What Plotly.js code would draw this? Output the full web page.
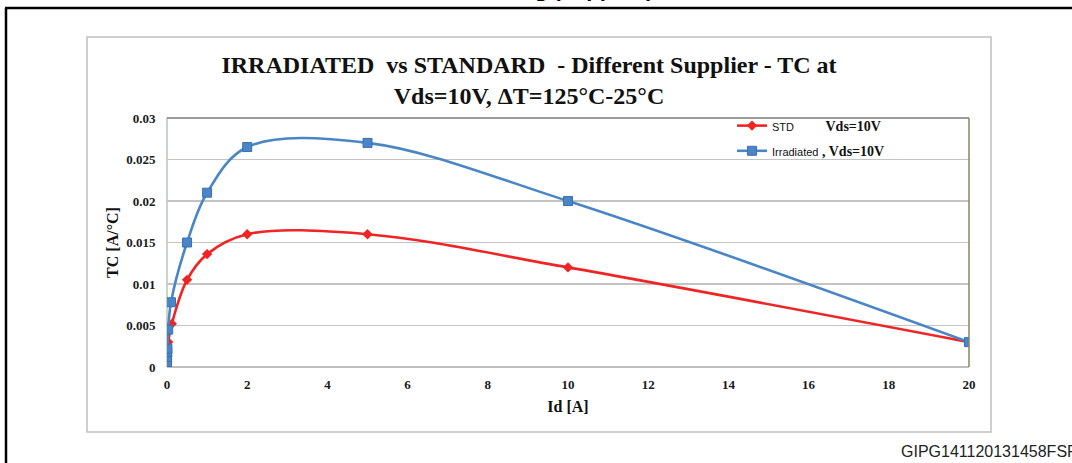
<!DOCTYPE html>
<html>
<head>
<meta charset="utf-8">
<script src="https://cdn.plot.ly/plotly-3.0.1.min.js"></script>
<style>
  html, body { margin: 0; padding: 0; background: #ffffff; overflow: hidden; }
  #chart { width: 1072px; height: 463px; }
</style>
</head>
<body>
<div id="chart"></div>
<script>
// ---- data ----
const stdId   = [0.001, 0.002, 0.005, 0.01, 0.03, 0.12, 0.5, 1, 2, 5, 10, 20];
const stdTC   = [0.0004, 0.0008, 0.0013, 0.0018, 0.003, 0.0052, 0.0105, 0.0136, 0.016, 0.016, 0.012, 0.003];
const irrId   = [0.001, 0.002, 0.005, 0.01, 0.03, 0.1, 0.5, 1, 2, 5, 10, 20];
const irrTC   = [0.0006, 0.0012, 0.0018, 0.0022, 0.0045, 0.0078, 0.015, 0.021, 0.0265, 0.027, 0.020, 0.003];
const xTicks  = [0, 2, 4, 6, 8, 10, 12, 14, 16, 18, 20];
const yTicks  = [0, 0.005, 0.01, 0.015, 0.02, 0.025, 0.03];
const yTickText = ['0', '0.005', '0.01', '0.015', '0.02', '0.025', '0.03'];
const stdName = '<span style="font-family:\'Liberation Sans\';font-size:11px;font-weight:normal">STD</span>' + '\u00a0'.repeat(9) + '<b>Vds=10V</b>';
const irrName = '<span style="font-family:\'Liberation Sans\';font-size:11px;font-weight:normal">Irradiated</span> <b>, Vds=10V</b>';
const chartTitle = '<b>IRRADIATED  vs STANDARD  - Different Supplier - TC at</b><br><b>Vds=10V, \u0394T=125\u00b0C-25\u00b0C</b>';
const xTitle = 'Id [A]';
const yTitle = 'TC [A/\u00b0C]';
const footCode = 'GIPG141120131458FSR';
const topCaption = '<b>I<sub>D</sub> (supplier)</b>';

// ---- geometry helpers (pixel -> paper) ----
const L = 167, R = 969, T = 118, B = 367, W = 1072, H = 463;
const px = p => (p - L) / (R - L);
const py = p => (B - p) / (B - T);

const serif = 'Liberation Serif, Times New Roman, serif';

const traces = [
  {
    x: stdId, y: stdTC, name: stdName, type: 'scatter', mode: 'lines+markers',
    line: {color: '#f02424', width: 2.6, shape: 'spline', smoothing: 1},
    marker: {symbol: 'diamond', size: 8, color: '#f02424'},
    legendgroup: 'a'
  },
  {
    x: irrId, y: irrTC, name: irrName, type: 'scatter', mode: 'lines+markers',
    line: {color: '#4a86c6', width: 2.6, shape: 'spline', smoothing: 1},
    marker: {symbol: 'square', size: 9, color: '#4a86c6', line: {color: '#3a70b0', width: 1}},
    legendgroup: 'b'
  }
];

const shapes = [
  // outer black frame (left and top)
  {type: 'line', xref: 'paper', yref: 'paper', x0: px(6), x1: px(6), y0: py(8), y1: py(470), line: {color: '#000', width: 2.5}},
  {type: 'line', xref: 'paper', yref: 'paper', x0: px(5), x1: px(1075), y0: py(8), y1: py(8), line: {color: '#000', width: 2.5}},
  // inner grey chart box
  {type: 'rect', xref: 'paper', yref: 'paper', x0: px(87), x1: px(991), y0: py(37), y1: py(432), line: {color: '#c0c0c0', width: 1.5}, layer: 'below'},
  // plot area borders
  {type: 'line', xref: 'paper', yref: 'paper', x0: 0, x1: 1, y0: 1, y1: 1, line: {color: '#7a7a7a', width: 1.5}},
  {type: 'line', xref: 'paper', yref: 'paper', x0: 1, x1: 1, y0: 0, y1: 1, line: {color: '#84845e', width: 1.5}},
  {type: 'line', xref: 'paper', yref: 'paper', x0: 0, x1: 0, y0: 0, y1: 1, line: {color: '#b4c8b4', width: 1.5}, layer: 'below'},
  {type: 'line', xref: 'paper', yref: 'paper', x0: 0, x1: 1, y0: 0, y1: 0, line: {color: '#a8a8a8', width: 1.5}, layer: 'below'}
];

const layout = {
  width: W, height: H,
  margin: {l: L, r: W - R, t: T, b: H - B, pad: 0},
  paper_bgcolor: '#ffffff', plot_bgcolor: '#ffffff',
  showlegend: true,
  title: {
    text: chartTitle,
    font: {family: serif, size: 24, color: '#111'},
    xref: 'paper', x: px(529), xanchor: 'center',
    yref: 'container', y: 1 - 73 / H, yanchor: 'top'
  },
  xaxis: {
    range: [0, 20], tickvals: xTicks, ticktext: xTicks.map(String),
    showgrid: false, zeroline: false, showline: false,
    ticks: 'outside', ticklen: 5, tickcolor: 'rgba(0,0,0,0)',
    tickfont: {family: serif, size: 13, color: '#1a1a1a', weight: 'bold'},
    title: {text: xTitle, font: {family: serif, size: 16, color: '#111', weight: 'bold'}, standoff: 10},
    fixedrange: true
  },
  yaxis: {
    range: [0, 0.03], tickvals: yTicks, ticktext: yTickText,
    showgrid: true, gridcolor: '#c4c4c4', gridwidth: 1.5,
    zeroline: false, showline: false,
    ticks: 'outside', ticklen: 8, tickcolor: 'rgba(0,0,0,0)',
    tickfont: {family: serif, size: 13, color: '#1a1a1a', weight: 'bold'},
    title: {text: yTitle, font: {family: serif, size: 16, color: '#111', weight: 'bold'}, standoff: 3},
    fixedrange: true
  },
  legend: {
    x: px(732), xanchor: 'left', y: py(110), yanchor: 'top',
    bgcolor: 'rgba(0,0,0,0)', borderwidth: 0,
    font: {family: serif, size: 14, color: '#111'},
    traceorder: 'grouped', tracegroupgap: 4
  },
  shapes: shapes,
  annotations: [
    {text: footCode, xref: 'paper', yref: 'paper', x: px(899), y: py(451), xanchor: 'left', yanchor: 'middle',
     showarrow: false, font: {family: 'Liberation Sans, Arial, sans-serif', size: 16, color: '#222'}},
    {text: topCaption, xref: 'paper', yref: 'paper', x: px(528), y: py(-10), xanchor: 'left', yanchor: 'middle',
     showarrow: false, font: {family: 'Liberation Sans, Arial, sans-serif', size: 22, color: '#000'}}
  ]
};

Plotly.newPlot('chart', traces, layout, {displayModeBar: false, staticPlot: true});
</script>
</body>
</html>
